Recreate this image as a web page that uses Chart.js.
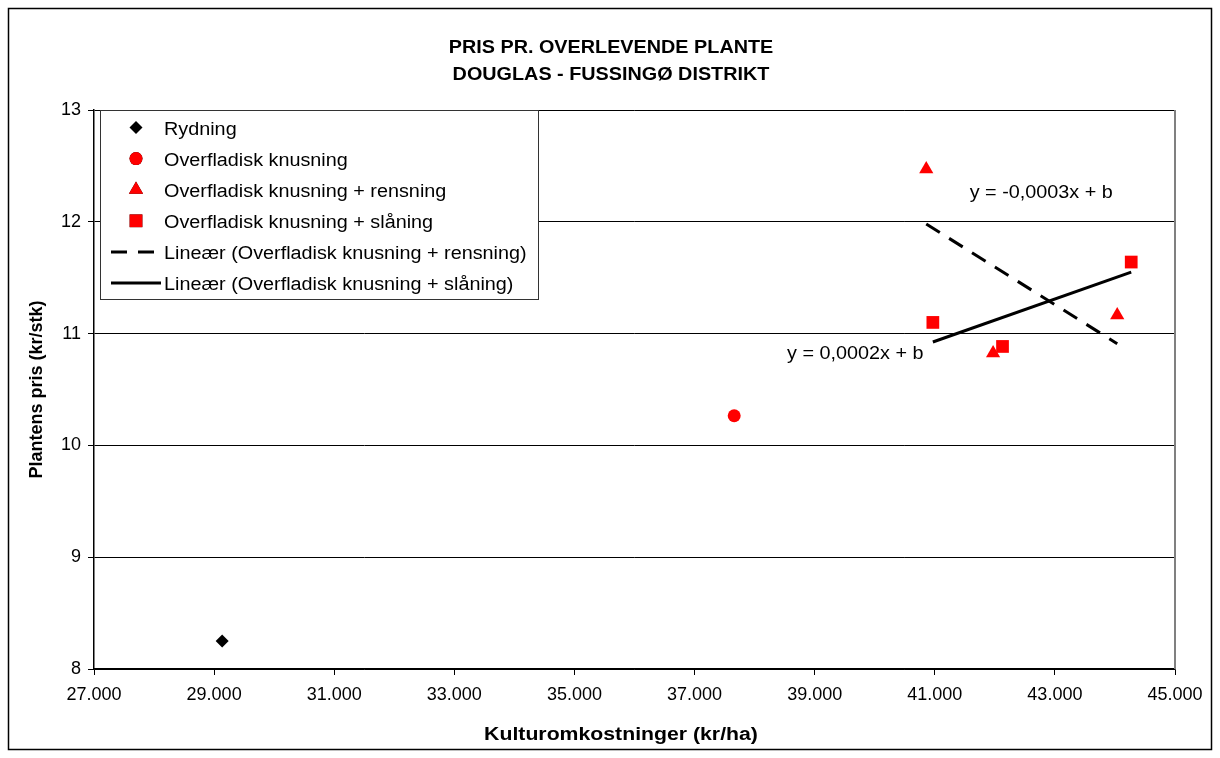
<!DOCTYPE html>
<html>
<head>
<meta charset="utf-8">
<script src="https://cdn.jsdelivr.net/npm/chart.js@4.4.1/dist/chart.umd.min.js"></script>
<style>
  html, body { margin: 0; padding: 0; background: #fff; }
  #wrap { width: 1220px; height: 758px; position: relative; }
</style>
</head>
<body>
<div id="wrap"><canvas id="chart" width="1220" height="758"></canvas></div>
<script>
// Data
const titleLines = ['PRIS PR. OVERLEVENDE PLANTE', 'DOUGLAS - FUSSINGØ DISTRIKT'];
const xTitle = 'Kulturomkostninger (kr/ha)';
const yTitle = 'Plantens pris (kr/stk)';

const rydningX = [29134];
const rydningY = [8.25];

const knusningX = [37660];
const knusningY = [10.265];

const rensningX = [40858, 44038, 41971];
const rensningY = [12.47, 11.165, 10.825];

const slaaningX = [40968, 42128, 44271];
const slaaningY = [11.10, 10.885, 11.64];

// trendline endpoints (as drawn in the reference)
const trendRensX = [40858, 44038];
const trendRensY = [11.98, 10.91];
const trendSlaaX = [40968, 44271];
const trendSlaaY = [10.925, 11.55];

const trendLabels = ['y = -0,0003x + b', 'y = 0,0002x + b'];
const trendLabelX = [41581, 40813];
const trendLabelY = [12.26, 10.82];

const xTicks = [27000, 29000, 31000, 33000, 35000, 37000, 39000, 41000, 43000, 45000];
const yTicks = [8, 9, 10, 11, 12, 13];

const FONT = '"Liberation Sans", Arial, Helvetica, sans-serif';

function toPoints(xs, ys) {
    return xs.map((x, i) => ({ x: x, y: ys[i] }));
}

// tekst lidt bredere, som i Excel-billedet
function stretchedText(ctx, text, x, y, sx, align) {
    const w = ctx.measureText(text).width * sx;
    let left = x;
    if (align === 'center') left = x - w / 2;
    else if (align === 'right') left = x - w;
    ctx.save();
    ctx.translate(left, y);
    ctx.scale(sx, 1);
    ctx.textAlign = 'left';
    ctx.fillText(text, 0, 0);
    ctx.restore();
}

// titel, ramme, legend og ligningstekster
const decorPlugin = {
    id: 'decor',
    afterDraw(chart) {
        const ctx = chart.ctx;
        const area = chart.chartArea;
        const xs = chart.scales.x;
        const ys = chart.scales.y;
        ctx.save();

        // plot area right edge
        ctx.strokeStyle = '#808080';
        ctx.lineWidth = 2;
        ctx.beginPath();
        ctx.moveTo(area.right, area.top);
        ctx.lineTo(area.right, area.bottom);
        ctx.stroke();

        // outer frame
        ctx.strokeStyle = '#000';
        ctx.lineWidth = 1.5;
        ctx.strokeRect(8.5, 8.5, 1203, 741);

        ctx.fillStyle = '#000';
        ctx.textBaseline = 'alphabetic';

        // title
        ctx.font = 'bold 18px ' + FONT;
        stretchedText(ctx, titleLines[0], 611, 53, 1.1, 'center');
        stretchedText(ctx, titleLines[1], 611, 80, 1.1, 'center');

        // x axis title
        stretchedText(ctx, xTitle, 621, 740, 1.18, 'center');

        // equation labels
        ctx.font = '18px ' + FONT;
        ctx.textBaseline = 'middle';
        stretchedText(ctx, trendLabels[0], xs.getPixelForValue(trendLabelX[0]), ys.getPixelForValue(trendLabelY[0]), 1.1, 'left');
        stretchedText(ctx, trendLabels[1], xs.getPixelForValue(trendLabelX[1]), ys.getPixelForValue(trendLabelY[1]), 1.1, 'right');

        // legend box
        const lx = 100, ly = 110, lw = 438, lh = 189;
        ctx.fillStyle = '#fff';
        ctx.fillRect(lx, ly, lw, lh);
        ctx.strokeStyle = '#333';
        ctx.lineWidth = 1;
        ctx.strokeRect(lx + 0.5, ly + 0.5, lw, lh);

        chart.data.datasets.forEach((ds, i) => {
            const base = 134.5 + 31.1 * i;
            const y = base - 7;
            if (ds.showLine) {
                ctx.strokeStyle = ds.borderColor;
                ctx.lineWidth = ds.borderWidth;
                ctx.setLineDash(ds.borderDash || []);
                ctx.beginPath();
                ctx.moveTo(111, y);
                ctx.lineTo(161, y);
                ctx.stroke();
                ctx.setLineDash([]);
            } else {
                Chart.helpers.drawPoint(ctx, {
                    pointStyle: ds.pointStyle,
                    radius: ds.pointRadius,
                    rotation: 0,
                    borderWidth: 0
                }, 136, y);
                ctx.fillStyle = ds.backgroundColor;
                ctx.fill();
            }
            ctx.fillStyle = '#000';
            ctx.font = '18px ' + FONT;
            ctx.textBaseline = 'alphabetic';
            stretchedText(ctx, ds.label, 164, base, 1.1, 'left');
        });

        ctx.restore();
    }
};

const chart = new Chart(document.getElementById('chart').getContext('2d'), {
    type: 'scatter',
    data: {
        datasets: [
            {
                label: 'Rydning',
                data: toPoints(rydningX, rydningY),
                pointStyle: 'rectRot',
                pointRadius: 6.5,
                backgroundColor: '#000',
                borderColor: '#000',
                borderWidth: 0
            },
            {
                label: 'Overfladisk knusning',
                data: toPoints(knusningX, knusningY),
                pointStyle: 'circle',
                pointRadius: 6.5,
                backgroundColor: '#ff0000',
                borderColor: '#ff0000',
                borderWidth: 0
            },
            {
                label: 'Overfladisk knusning + rensning',
                data: toPoints(rensningX, rensningY),
                pointStyle: 'triangle',
                pointRadius: 8.2,
                backgroundColor: '#ff0000',
                borderColor: '#ff0000',
                borderWidth: 0
            },
            {
                label: 'Overfladisk knusning + slåning',
                data: toPoints(slaaningX, slaaningY),
                pointStyle: 'rect',
                pointRadius: 9,
                backgroundColor: '#ff0000',
                borderColor: '#ff0000',
                borderWidth: 0
            },
            {
                label: 'Lineær (Overfladisk knusning + rensning)',
                data: toPoints(trendRensX, trendRensY),
                showLine: true,
                pointRadius: 0,
                borderColor: '#000',
                borderWidth: 3,
                borderDash: [16, 11],
                fill: false
            },
            {
                label: 'Lineær (Overfladisk knusning + slåning)',
                data: toPoints(trendSlaaX, trendSlaaY),
                showLine: true,
                pointRadius: 0,
                borderColor: '#000',
                borderWidth: 3,
                fill: false
            }
        ]
    },
    options: {
        responsive: false,
        animation: false,
        layout: { padding: { left: 0, right: 45, top: 110, bottom: 0 } },
        plugins: {
            legend: { display: false },
            title: { display: false },
            tooltip: { enabled: false }
        },
        scales: {
            x: {
                type: 'linear',
                min: xTicks[0],
                max: xTicks[xTicks.length - 1],
                afterBuildTicks(scale) {
                    scale.ticks = xTicks.map(v => ({ value: v }));
                },
                afterFit(scale) { scale.height = 89; },
                border: { color: '#000', width: 1.5 },
                grid: { drawOnChartArea: false, color: '#000', tickLength: 6, lineWidth: 1 },
                ticks: {
                    color: '#000',
                    padding: 9,
                    maxRotation: 0,
                    font: { family: FONT, size: 18 },
                    callback: v => Math.round(v / 1000) + '.000'
                }
            },
            y: {
                type: 'linear',
                min: yTicks[0],
                max: yTicks[yTicks.length - 1],
                afterBuildTicks(scale) {
                    scale.ticks = yTicks.map(v => ({ value: v }));
                },
                afterFit(scale) { scale.width = 94; },
                border: { color: '#000', width: 1.5 },
                grid: { color: '#000', tickLength: 6, lineWidth: 1 },
                ticks: {
                    color: '#000',
                    padding: 7,
                    font: { family: FONT, size: 18 }
                },
                title: {
                    display: true,
                    text: yTitle,
                    color: '#000',
                    font: { family: FONT, size: 18, weight: 'bold' },
                    padding: { top: 26, bottom: 0 }
                }
            }
        }
    },
    plugins: [decorPlugin]
});
</script>
</body>
</html>
